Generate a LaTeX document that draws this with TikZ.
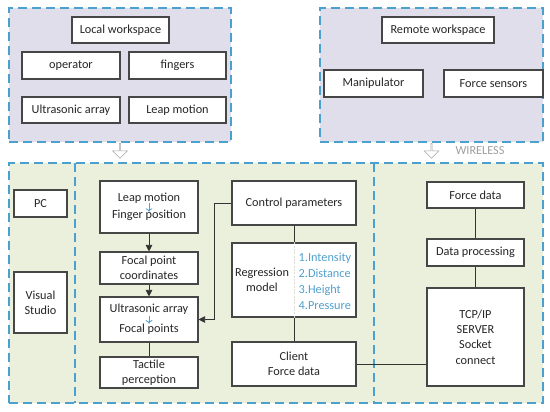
\documentclass[tikz,border=0pt]{standalone}
\usepackage{fontspec}
\setmainfont{Carlito}
\usetikzlibrary{positioning,arrows.meta,shapes.arrows}
\definecolor{frameblue}{RGB}{75,160,205}
\definecolor{lilac}{RGB}{224,222,235}
\definecolor{sage}{RGB}{234,240,220}
\definecolor{boxline}{RGB}{70,70,70}
\definecolor{listblue}{RGB}{80,160,205}
\tikzset{
  box/.style={rectangle,draw=boxline,fill=white,line width=0.8pt,inner sep=0pt,
    align=center,text=black!85,font=\fontsize{9.2}{11.5}\selectfont},
  zone/.style={rectangle,draw=frameblue,line width=1.1pt,dash pattern=on 7pt off 3.5pt,inner sep=0pt},
  divider/.style={draw=frameblue,line width=1.1pt,dash pattern=on 7pt off 3.5pt},
  hollow/.style={single arrow,draw=gray!70,fill=white,rotate=-90,inner sep=0pt,
    minimum height=11.25pt,minimum width=11pt,single arrow head extend=2.5pt},
  link/.style={draw=black!80,line width=0.7pt},
  flow/.style={link,-{Triangle[length=5pt,width=5pt]}},
  hint/.style={draw=listblue,line width=0.6pt,-{To[length=2.5pt,width=5pt]}}
}

\begin{document}
\begin{tikzpicture}[x=0.75pt,y=-0.75pt]
\useasboundingbox (0,0) rectangle (550,411);

% workspaces
\node[zone,fill=lilac,minimum width=166.5pt,minimum height=100.5pt] (localws) at (120,75) {};
\node[zone,fill=lilac,minimum width=167.25pt,minimum height=100.5pt] (remotews) at (431.5,75) {};
\node[zone,fill=sage,minimum width=400.5pt,minimum height=180pt] (lab) at (276,283) {};
\draw[divider] (75,163) -- (75,403);
\draw[divider] (374,163) -- (374,403);

\node[box,minimum width=72.75pt,minimum height=19.5pt] (localtitle) at (120.5,30) {Local workspace};
\node[box,minimum width=73.5pt,minimum height=20.25pt] (operator) at (71,65.5) {operator};
\node[box,minimum width=72.75pt,minimum height=20.25pt] (fingers) at (177.5,65.5) {fingers};
\node[box,minimum width=73.5pt,minimum height=19.5pt] (usarray) at (71,110) {Ultrasonic array};
\node[box,minimum width=72.75pt,minimum height=19.5pt] (leap) at (177.5,110) {Leap motion};

\node[box,minimum width=84pt,minimum height=19.5pt] (remotetitle) at (438,30) {Remote workspace};
\node[box,minimum width=74.25pt,minimum height=20.25pt] (manip) at (373.5,83.5) {Manipulator};
\node[box,minimum width=74.25pt,minimum height=20.25pt] (fsensors) at (493.5,83.5) {Force sensors};

% wireless link
\node[hollow] (downlocal) at (120,150.5) {};
\node[hollow] (downremote) at (431.5,150.5) {};
\node[text=gray!75,font=\fontsize{9.2}{10}\selectfont] (wireless) at (480,150.5) {WIRELESS};

% PC side
\node[box,minimum width=39.75pt,minimum height=20.25pt] (pc) at (40.5,203.5) {PC};
\node[box,minimum width=39.75pt,minimum height=45.75pt] (vstudio) at (40.5,302.5) {Visual\\Studio};

\node[box,minimum width=73.5pt,minimum height=39pt] (fingerpos) at (149,207) {Leap motion\\[1.5pt]Finger position};
\node[box,minimum width=73.5pt,minimum height=24pt] (focalcoord) at (149,268) {Focal point\\coordinates};
\node[box,minimum width=73.5pt,minimum height=33.75pt] (focalpts) at (149,319.5) {Ultrasonic array\\[3.5pt]Focal points};
\node[box,minimum width=73.5pt,minimum height=23.25pt] (tactile) at (149,372.5) {Tactile\\perception};

\node[box,minimum width=93pt,minimum height=33pt] (ctrl) at (294,203) {Control parameters};
\node[box,minimum width=93pt,minimum height=55.5pt] (regr) at (294,280) {};
\node[box,minimum width=93pt,minimum height=33pt] (client) at (294,364) {Client\\Force data};
\draw[draw=orange!15!gray!30,line width=0.5pt,dash pattern=on 1.5pt off 1pt] (regr.north) -- (regr.south);
\node[align=center,text=black!85,font=\fontsize{9.2}{11.5}\selectfont] (regrtxt) at (262,280) {Regression\\model};
\node[align=left,text=listblue,font=\fontsize{9.2}{12}\selectfont] (regrlist) at (325,281)
  {1.Intensity\\2.Distance\\3.Height\\4.Pressure};

% server side
\node[box,minimum width=72.75pt,minimum height=19.5pt] (fdata) at (475.5,195) {Force data};
\node[box,minimum width=72.75pt,minimum height=20.25pt] (dproc) at (475.5,252.5) {Data processing};
\node[box,minimum width=72.75pt,minimum height=73.5pt] (tcp) at (475.5,337) {TCP/IP\\SERVER\\Socket\\connect};

% connectors
\draw[flow] (fingerpos) -- (focalcoord);
\draw[flow] (focalcoord) -- (focalpts);
\draw[link] (focalpts) -- (tactile);
\draw[flow] (ctrl.west) -- ++(-17,0) |- (focalpts.east);
\draw[link] (ctrl) -- (regr);
\draw[link] (regr) -- (client);
\draw[link] (client.east) -- (tcp.west |- client.east);
\draw[link] (fdata) -- (dproc);
\draw[link] (dproc) -- (tcp);

\draw[hint] ([yshift=3pt]fingerpos.center) -- ([yshift=-3.5pt]fingerpos.center);
\draw[hint] ([yshift=3pt]focalpts.center) -- ([yshift=-3pt]focalpts.center);
\end{tikzpicture}
\end{document}
